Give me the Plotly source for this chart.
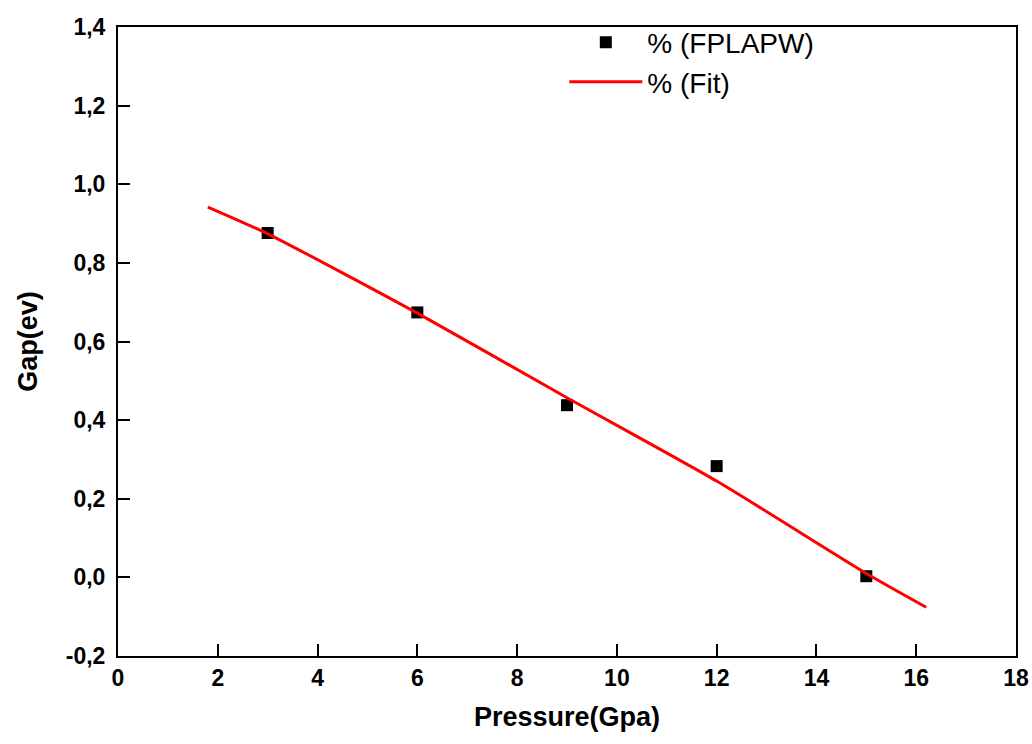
import plotly.graph_objects as go

# Data
pressure = [3, 6, 9, 12, 15]
gap_fplapw = [0.876, 0.674, 0.438, 0.283, 0.003]

fit_x = [1.8, 3, 6, 9, 12, 15, 16.2]
fit_y = [0.942, 0.874, 0.672, 0.457, 0.245, 0.010, -0.076]

x_ticks = [0, 2, 4, 6, 8, 10, 12, 14, 16, 18]
y_ticks = [-0.2, 0.0, 0.2, 0.4, 0.6, 0.8, 1.0, 1.2, 1.4]
y_ticktext = ["-0,2", "0,0", "0,2", "0,4", "0,6", "0,8", "1,0", "1,2", "1,4"]

FONT = "Liberation Sans, Arial"

fig = go.Figure()
fig.add_trace(go.Scatter(
    x=pressure, y=gap_fplapw, mode="markers", name="% (FPLAPW)",
    marker=dict(symbol="square", size=12, color="black"),
))
fig.add_trace(go.Scatter(
    x=fit_x, y=fit_y, mode="lines", name="% (Fit)",
    line=dict(color="#ff0000", width=3, shape="spline", smoothing=0.6),
))

axis_common = dict(
    showline=True, linecolor="black", linewidth=2, mirror=True,
    ticks="inside", ticklen=12, tickwidth=2, tickcolor="black",
    showgrid=False, zeroline=False,
    tickfont=dict(family=FONT, size=23, color="black", weight="bold"),
)

fig.update_xaxes(
    range=[0, 18], tickvals=x_ticks, ticktext=[str(v) for v in x_ticks],
    title=dict(text="<b>Pressure(Gpa)</b>", standoff=18,
               font=dict(family=FONT, size=27, color="black")),
    **axis_common,
)
fig.update_yaxes(
    range=[-0.2, 1.4], tickvals=y_ticks, ticktext=y_ticktext,
    ticklabelstandoff=6,
    title=dict(text="<b>Gap(ev)</b>", standoff=20,
               font=dict(family=FONT, size=27, color="black")),
    **axis_common,
)

fig.update_layout(
    width=1032, height=744,
    margin=dict(l=118, r=16, t=27, b=88, autoexpand=False),
    paper_bgcolor="white", plot_bgcolor="white",
    showlegend=True,
    legend=dict(
        x=0.497, y=1.015, xanchor="left", yanchor="top",
        bgcolor="rgba(0,0,0,0)", borderwidth=0,
        font=dict(family=FONT, size=28, color="black"),
        itemwidth=73, tracegroupgap=0,
    ),
)

fig.write_html("out.html")
